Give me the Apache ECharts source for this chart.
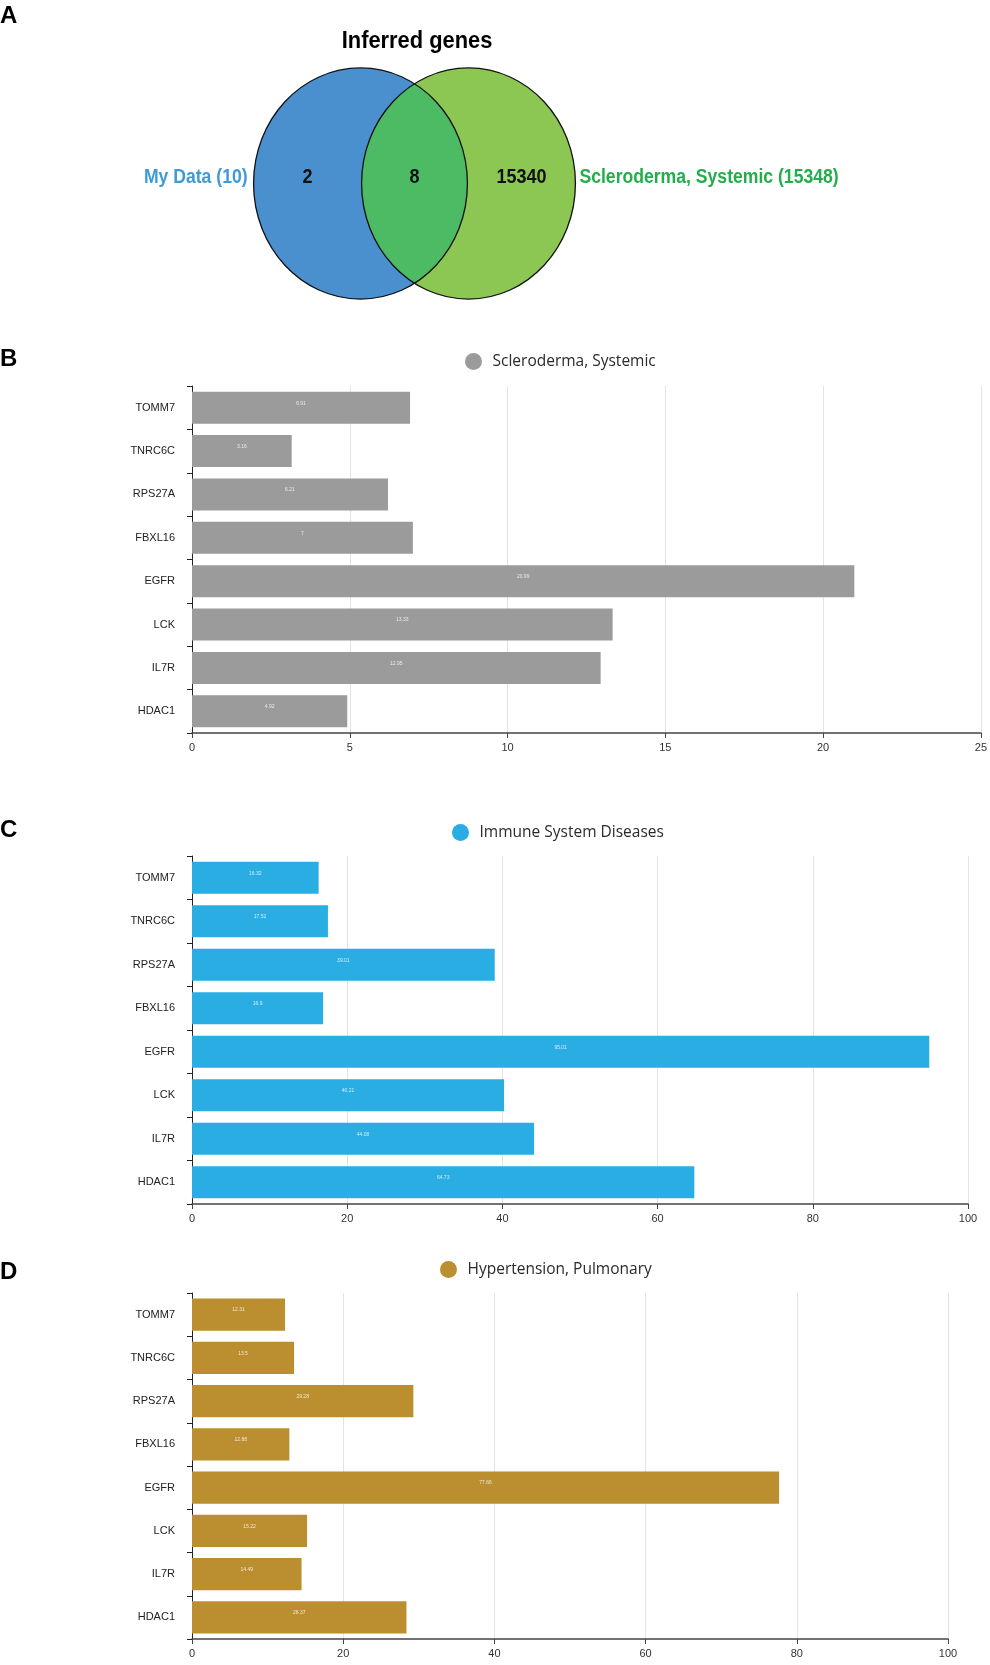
<!DOCTYPE html>
<html>
<head>
<meta charset="utf-8">
<script src="https://cdn.jsdelivr.net/npm/echarts@6/dist/echarts.min.js"></script>
<style>
  html, body { margin: 0; padding: 0; background: #fff; }
  #chart { width: 990px; height: 1665px; }
</style>
</head>
<body>
<div id="chart"></div>
<script>
// ---- panel A: venn ----
const vennTitle = "Inferred genes";
const vennSetNames = ["My Data", "Scleroderma, Systemic"];
const vennSetSizes = [10, 15348];
const vennRegionCounts = [2, 8, 15340]; // left only, shared, right only

// ---- panels B-D: bars ----
const genes = ["TOMM7", "TNRC6C", "RPS27A", "FBXL16", "EGFR", "LCK", "IL7R", "HDAC1"];
const sclerodermaValues = [6.91, 3.16, 6.21, 7, 20.99, 13.33, 12.95, 4.92];
const immuneValues = [16.32, 17.52, 39.01, 16.9, 95.01, 40.21, 44.08, 64.73];
const pulmonaryValues = [12.31, 13.5, 29.28, 12.88, 77.66, 15.22, 14.49, 28.37];
const ticksB = [0, 5, 10, 15, 20, 25];
const ticksCD = [0, 20, 40, 60, 80, 100];

const chart = echarts.init(document.getElementById("chart"));
const FONT = "'Liberation Sans', Arial, sans-serif";

const panels = [
  { name: "Scleroderma, Systemic", values: sclerodermaValues, ticks: ticksB, color: "#9b9b9b",
    top: 386, height: 347, right: 7, legendLeft: 460, legendTop: 348 },
  { name: "Immune System Diseases", values: immuneValues, ticks: ticksCD, color: "#29ade3",
    top: 856, height: 348, right: 22, legendLeft: 447, legendTop: 819 },
  { name: "Hypertension, Pulmonary", values: pulmonaryValues, ticks: ticksCD, color: "#bb8e2f",
    top: 1293, height: 346, right: 42, legendLeft: 435, legendTop: 1256 }
];

const grids = [], xAxes = [], yAxes = [], legends = [], series = [];

panels.forEach(function (p, i) {
  grids.push({ left: 192, right: p.right, top: p.top, height: p.height });
  xAxes.push({
    type: "value",
    gridIndex: i,
    min: p.ticks[0],
    max: p.ticks[p.ticks.length - 1],
    interval: p.ticks[1] - p.ticks[0],
    axisLine: { show: true, lineStyle: { color: "#444", width: 1.5 } },
    axisTick: { show: true, length: 5, lineStyle: { color: "#444" } },
    axisLabel: { color: "#333", fontSize: 11, fontFamily: FONT, margin: 9 },
    splitLine: { show: true, lineStyle: { color: "#e3e3e3" } }
  });
  yAxes.push({
    type: "category",
    gridIndex: i,
    data: genes,
    inverse: true,
    axisLine: { show: true, lineStyle: { color: "#222" } },
    axisTick: { show: true, length: 5, lineStyle: { color: "#222" } },
    axisLabel: { color: "#222", fontSize: 11, fontFamily: FONT, margin: 17 },
    splitLine: { show: false }
  });
  legends.push({
    data: [p.name],
    left: p.legendLeft,
    top: p.legendTop,
    icon: "circle",
    itemWidth: 28,
    itemHeight: 17,
    textStyle: { color: "#2a2a2a", fontSize: 15.5, fontFamily: "'Open Sans', sans-serif" }
  });
  series.push({
    type: "bar",
    name: p.name,
    xAxisIndex: i,
    yAxisIndex: i,
    data: p.values,
    barCategoryGap: "26%",
    itemStyle: { color: p.color },
    label: {
      show: true,
      position: "insideTop",
      distance: 9,
      fontSize: 5,
      color: "rgba(255,255,255,0.8)"
    }
  });
});

// hidden grid for the venn, 1 unit = 108px on both axes
grids.push({ left: 90.5, width: 648, top: 75.5, height: 216 });
xAxes.push({ type: "value", gridIndex: 3, min: -3, max: 3, show: false });
yAxes.push({ type: "value", gridIndex: 3, min: -1, max: 1, show: false });

const vennRx = 0.99, vennRy = 1.07;

series.push({
  type: "custom",
  xAxisIndex: 3,
  yAxisIndex: 3,
  silent: true,
  data: [[0, 0]],
  renderItem: function (params, api) {
    const c1 = api.coord([-0.5, 0]);
    const c2 = api.coord([0.5, 0]);
    const unit = api.size([1, 1]);
    const rx = vennRx * unit[0];
    const ry = vennRy * unit[1];
    const xm = (c1[0] + c2[0]) / 2;
    const half = (c2[0] - c1[0]) / 2;
    const h = ry * Math.sqrt(1 - (half / rx) * (half / rx));
    const yTop = c1[1] - h, yBot = c1[1] + h;
    const lens = "M" + xm + " " + yTop +
      " A" + rx + " " + ry + " 0 0 1 " + xm + " " + yBot +
      " A" + rx + " " + ry + " 0 0 1 " + xm + " " + yTop + " Z";
    const ty = c1[1] - 6;
    const numStyle = function (t) {
      return { text: t, x: 0, y: 0, align: "center", verticalAlign: "middle",
               fontSize: 20, fontWeight: "bold", fontFamily: FONT, fill: "#111" };
    };
    return {
      type: "group",
      children: [
        { type: "ellipse", shape: { cx: c1[0], cy: c1[1], rx: rx, ry: ry }, style: { fill: "#4a90cf" } },
        { type: "ellipse", shape: { cx: c2[0], cy: c2[1], rx: rx, ry: ry }, style: { fill: "#8cc653" } },
        { type: "path", shape: { pathData: lens }, style: { fill: "#4cbb63" } },
        { type: "ellipse", shape: { cx: c1[0], cy: c1[1], rx: rx, ry: ry }, style: { fill: null, stroke: "#111", lineWidth: 1.3 } },
        { type: "ellipse", shape: { cx: c2[0], cy: c2[1], rx: rx, ry: ry }, style: { fill: null, stroke: "#111", lineWidth: 1.3 } },
        { type: "text", x: (c1[0] + c2[0]) / 2 - rx, y: ty, scaleX: 0.9, style: numStyle(String(vennRegionCounts[0])) },
        { type: "text", x: xm, y: ty, scaleX: 0.9, style: numStyle(String(vennRegionCounts[1])) },
        { type: "text", x: (c1[0] + c2[0]) / 2 + rx, y: ty, scaleX: 0.9, style: numStyle(String(vennRegionCounts[2])) },
        { type: "text", x: c1[0] - rx - 6, y: ty, scaleX: 0.88,
          style: { text: vennSetNames[0] + " (" + vennSetSizes[0] + ")", x: 0, y: 0, align: "right", verticalAlign: "middle",
                   fontSize: 20, fontWeight: "bold", fontFamily: FONT, fill: "#3f9bd8" } },
        { type: "text", x: c2[0] + rx + 4, y: ty, scaleX: 0.88,
          style: { text: vennSetNames[1] + " (" + vennSetSizes[1] + ")", x: 0, y: 0, align: "left", verticalAlign: "middle",
                   fontSize: 20, fontWeight: "bold", fontFamily: FONT, fill: "#21ae4b" } }
      ]
    };
  }
});

const letterStyle = function (t) {
  return { text: t, x: 0, y: 0, align: "left", verticalAlign: "middle",
           fontSize: 24, fontWeight: "bold", fontFamily: FONT, fill: "#000" };
};

chart.setOption({
  animation: false,
  grid: grids,
  xAxis: xAxes,
  yAxis: yAxes,
  legend: legends,
  series: series,
  graphic: [
    { type: "text", x: 417, y: 42, scaleX: 0.95,
      style: { text: vennTitle, x: 0, y: 0, align: "center", verticalAlign: "middle",
               fontSize: 23, fontWeight: "bold", fontFamily: FONT, fill: "#000" } },
    { type: "text", x: 0, y: 16, style: letterStyle("A") },
    { type: "text", x: 0, y: 359, style: letterStyle("B") },
    { type: "text", x: 0, y: 830, style: letterStyle("C") },
    { type: "text", x: 0, y: 1272, style: letterStyle("D") }
  ]
});
</script>
</body>
</html>
